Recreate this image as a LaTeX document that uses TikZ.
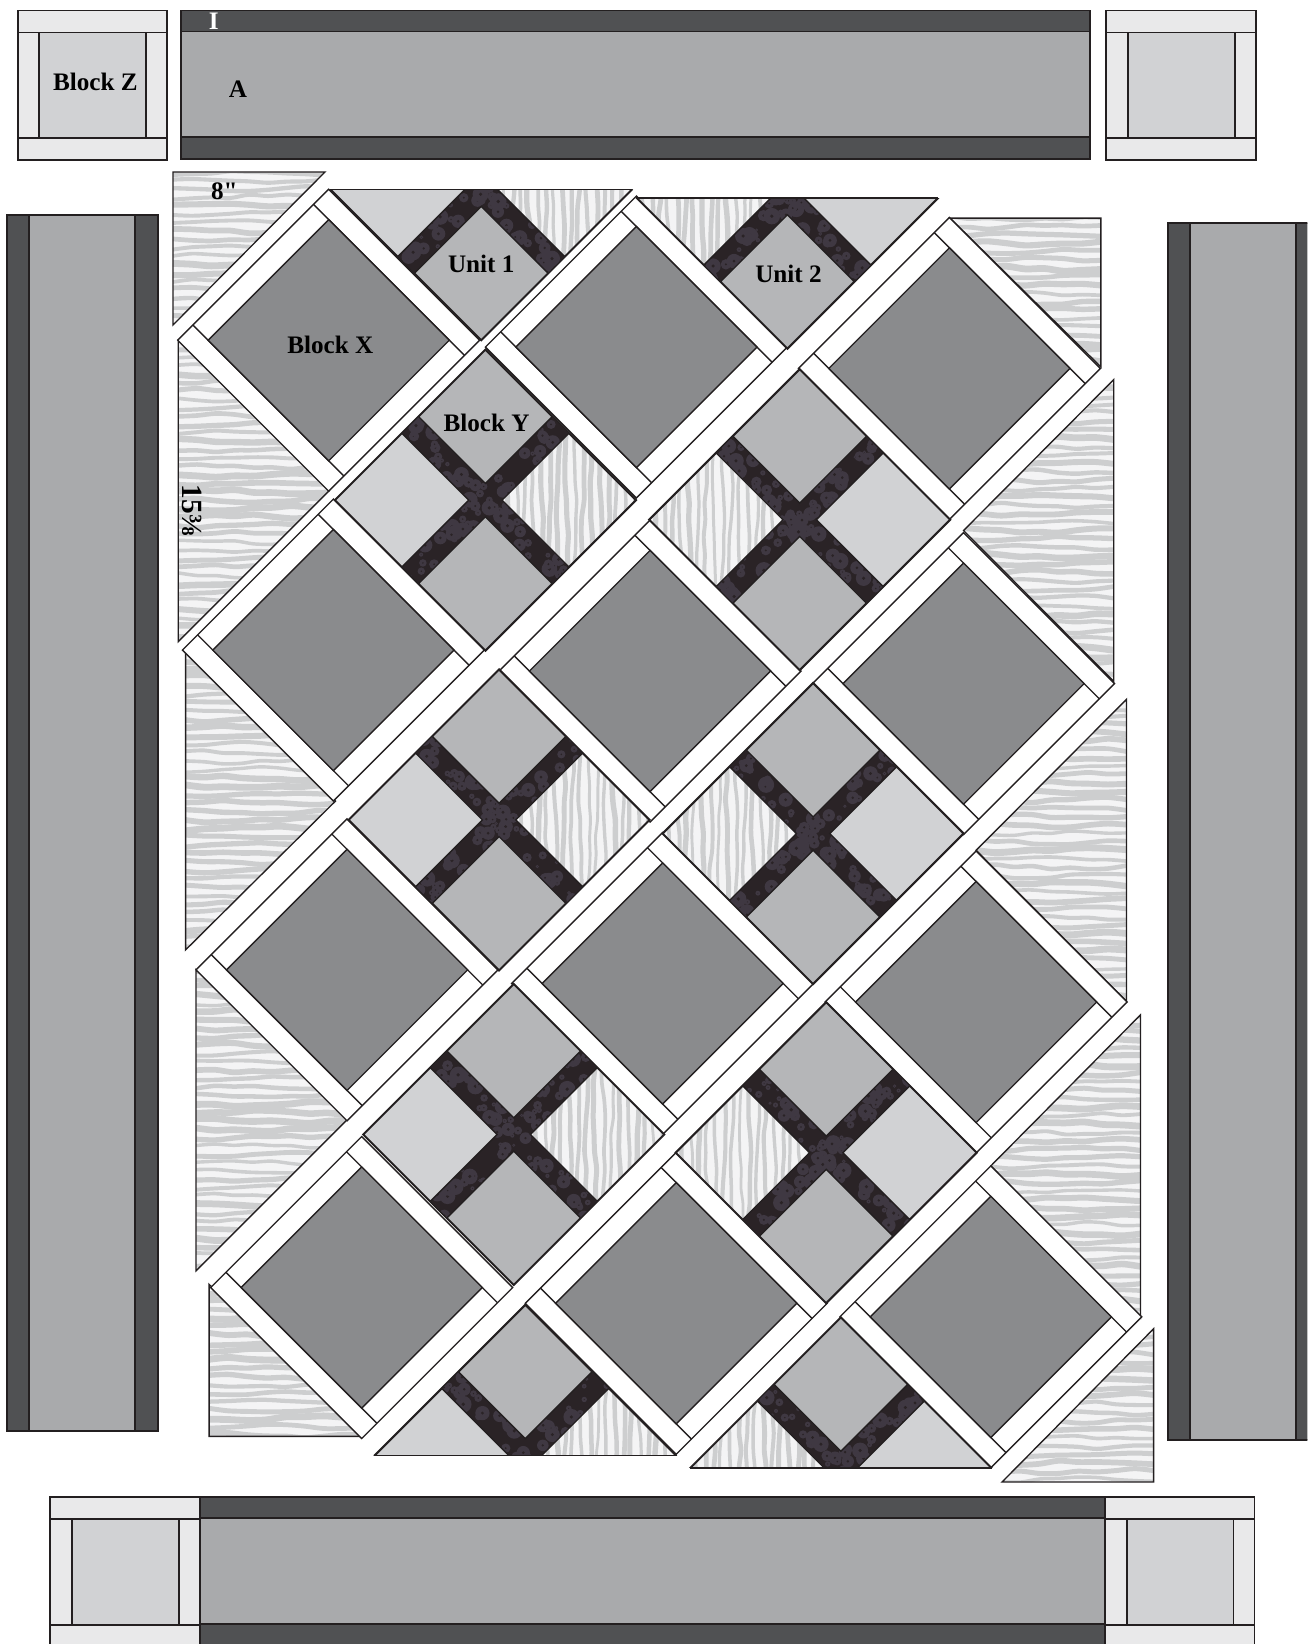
\documentclass[tikz,border=0pt]{standalone}
\usepackage{fontspec}
\newfontfamily\lblfont{Liberation Serif}
\definecolor{linecol}{HTML}{231F20}
\definecolor{darkbar}{HTML}{505153}
\definecolor{midbar}{HTML}{A9AAAC}
\definecolor{zsash}{HTML}{E9E9EA}
\definecolor{zcore}{HTML}{D1D2D4}
\definecolor{xcore}{HTML}{8A8B8D}
\definecolor{ycore}{HTML}{B5B6B8}
\definecolor{ripgrey}{HTML}{CDCECF}
\definecolor{ripwhite}{HTML}{F4F4F5}
\definecolor{batikdark}{HTML}{2A2326}
\definecolor{batiklite}{HTML}{3F3842}
\tikzset{
  piece/.style={draw=linecol, line width=1.3pt},
  barline/.style={draw=linecol, line width=1.8pt},
  qlbl/.style={font=\lblfont\bfseries\fontsize{24}{24}\selectfont, inner sep=0pt, text=black}}
% fabric prints, all in the coordinates of the scope they are used in
\newcommand{\rippleh}[4]{%
  \fill[ripwhite] (#1,#3) rectangle (#2,#4);
  \pgfmathsetmacro\ynext{#3+8}
  \foreach \yy in {#3,\ynext,...,#4}{
    \pgfmathsetmacro\lw{3.2+3.4*rnd}
    \pgfmathsetmacro\ph{mod(\yy,100)*13}
    \draw[ripgrey, line width=\lw pt] plot[smooth, domain=#1:#2, samples=9] (\x,{\yy+1.6*sin(\x*2.2+\ph)+1.1*rand});
  }}
\newcommand{\ripplev}[4]{%
  \fill[ripwhite] (#1,#3) rectangle (#2,#4);
  \pgfmathsetmacro\xnext{#1+8}
  \foreach \xx in {#1,\xnext,...,#2}{
    \pgfmathsetmacro\lw{2.6+2.6*rnd}
    \draw[ripgrey, line width=\lw pt] plot[smooth, variable=\t, domain=#3:#4, samples=9] ({\xx+1.4*sin(\t*2.2+\xx*13)+0.9*rand},\t);
  }}
\newcommand{\batik}{%
  \fill[batikdark] (-150,-150) rectangle (150,150);
  \foreach \i in {1,...,90}{
    \pgfmathsetmacro\pp{rand*80}
    \pgfmathsetmacro\qq{rand*8}
    \pgfmathsetmacro\rr{1.5+6.5*rnd}
    \pgfmathsetmacro\sgn{ifthenelse(mod(\i,2)==1,1,-1)}
    \fill[batiklite] ({\pp+\qq},{\sgn*(\pp-\qq)}) circle (\rr);
    \fill[batikdark] ({\pp+\qq},{\sgn*(\pp-\qq)}) circle ({0.22*\rr});
  }}
\newcommand{\midfab}{\fill[ycore] (-70,-70) rectangle (70,70);}
\newcommand{\lightfab}{\fill[zcore] (-70,-70) rectangle (70,70);}
\newcommand{\ripplefab}{\ripplev{-66}{66}{-66}{66}}
% one quarter of block Y
\newcommand{\yquad}[3]{%
  \begin{scope}[shift={(#1,#2)}]
    \begin{scope}
      \clip (0,-63.6) -- (63.6,0) -- (0,63.6) -- (-63.6,0) -- cycle;
      #3
    \end{scope}
    \draw[piece] (0,-63.6) -- (63.6,0) -- (0,63.6) -- (-63.6,0) -- cycle;
  \end{scope}}
% block Y: centre, left fabric, right fabric, kept y range
\newcommand{\yblock}[6]{%
  \begin{scope}[shift={(#1,#2)}]
    \clip (-150,#5) rectangle (150,#6);
    \begin{scope}
      \clip (0,-144) -- (144,0) -- (0,144) -- (-144,0) -- cycle;
      \batik
    \end{scope}
    \draw[piece] (0,-144) -- (144,0) -- (0,144) -- (-144,0) -- cycle;
    \yquad{0}{-79.5}{\midfab}
    \yquad{0}{79.5}{\midfab}
    \yquad{-79.5}{0}{#3}
    \yquad{79.5}{0}{#4}
  \end{scope}}
% block X with its sashes
\newcommand{\xblock}[2]{%
  \begin{scope}[shift={(#1,#2)}]
    \draw[piece, fill=white] (0,-144) -- (144,0) -- (0,144) -- (-144,0) -- cycle;
    \draw[piece] (-14.5,-129.5) -- (129.5,14.5);
    \draw[piece] (-129.5,-14.5) -- (14.5,129.5);
    \draw[piece, fill=xcore] (0,-115) -- (115,0) -- (0,115) -- (-115,0) -- cycle;
  \end{scope}}
% block Z, from its top left corner
\newcommand{\zblock}[2]{%
  \begin{scope}[shift={(#1,#2)}]
    \draw[barline, fill=zsash] (0,0) rectangle (142.5,142.5);
    \draw[barline, fill=zcore] (20.5,21) rectangle (122.5,121.5);
    \draw[barline] (0,21) -- (142.5,21);
    \draw[barline] (0,121.5) -- (142.5,121.5);
  \end{scope}}

\begin{document}
\begin{tikzpicture}[x=1pt, y=-1pt]
  \path[use as bounding box, clip] (0,0) rectangle (1247,1568);
  \pgfmathsetseed{7}
  % borders
  \foreach \xa/\xb/\ya in {173/1040/10, 190/1054/1428}{
    \draw[barline, fill=midbar] (\xa,\ya+20) rectangle (\xb,\ya+121);
    \draw[barline, fill=darkbar] (\xa,\ya) rectangle (\xb,\ya+20);
    \draw[barline, fill=darkbar] (\xa,\ya+121) rectangle (\xb,\ya+142);
  }
  \foreach \xa/\ya/\yb in {7/205/1365, 1114/213/1373}{
    \draw[barline, fill=midbar] (\xa+21,\ya) rectangle (\xa+122,\yb);
    \draw[barline, fill=darkbar] (\xa,\ya) rectangle (\xa+21,\yb);
    \draw[barline, fill=darkbar] (\xa+122,\ya) rectangle (\xa+144,\yb);
  }
  \foreach \xa/\ya in {17/10, 1055/10, 48/1428, 1054/1428}{
    \zblock{\xa}{\ya}
  }
  % setting triangles
  \foreach \ax/\ay/\bx/\by/\cx/\cy in {165/164/310/164/165/310, 170/325/170/612/314/468,
      177/622/177/906/320/764, 187/925/187/1212/331/1068, 199.5/1225/199.5/1370/345/1370,
      906/208/1050/208/1050/350, 1062.3/362/1062.3/650/919/506, 1074.4/667/1074.4/955/931/811,
      1087.7/968/1087.7/1257/945/1112, 955.7/1413.5/1100.3/1413.5/1100.3/1267.3}{
    \pgfmathsetmacro\xlo{min(\ax,\bx,\cx)}
    \pgfmathsetmacro\xhi{max(\ax,\bx,\cx)}
    \pgfmathsetmacro\ylo{min(\ay,\by,\cy)}
    \pgfmathsetmacro\yhi{max(\ay,\by,\cy)}
    \begin{scope}
      \clip (\ax,\ay) -- (\bx,\by) -- (\cx,\cy) -- cycle;
      \rippleh{\xlo}{\xhi}{\ylo}{\yhi}
    \end{scope}
    \draw[piece] (\ax,\ay) -- (\bx,\by) -- (\cx,\cy) -- cycle;
  }
  % blocks X, strip by strip
  \foreach \cx/\cy in {313.5/324.5, 318/620, 607/331, 331/925, 620/640, 905.5/351.4,
      345/1228, 632/938, 919/652, 645/1243, 931/955.7, 945/1256}{
    \xblock{\cx}{\cy}
  }
  % blocks Y
  \foreach \cx/\cy in {463/477, 476/782, 490/1082}{
    \yblock{\cx}{\cy}{\lightfab}{\ripplefab}{-150}{150}
  }
  \foreach \cx/\cy in {762.7/495.7, 775.5/795, 788/1099.4}{
    \yblock{\cx}{\cy}{\ripplefab}{\lightfab}{-150}{150}
  }
  % units, cut in half
  \yblock{459}{181}{\lightfab}{\ripplefab}{0}{150}
  \yblock{751}{189}{\ripplefab}{\lightfab}{0}{150}
  \yblock{501}{1388}{\lightfab}{\ripplefab}{-150}{0}
  \yblock{802}{1400}{\ripplefab}{\lightfab}{-150}{0}
  \foreach \cx/\cy in {459/181, 751/189, 501/1388, 802/1400}{
    \draw[piece] (\cx-144,\cy) -- (\cx+144,\cy);
  }
  % labels
  \node[qlbl] (blockz) at (91,78) {Block Z};
  \node[qlbl, text=white] (stripi) at (204,20) {I};
  \node[qlbl] (stripa) at (227,85) {A};
  \node[qlbl] (eight) at (214,182) {8"};
  \node[qlbl] (blockx) at (315,329) {Block X};
  \node[qlbl] (unita) at (459,252) {Unit 1};
  \node[qlbl] (blocky) at (464,403) {Block Y};
  \node[qlbl] (unitb) at (752,261) {Unit 2};
  \node[qlbl, font=\lblfont\bfseries\fontsize{28}{28}\selectfont, rotate=-90] (side) at (183,487) {15⅜};
\end{tikzpicture}
\end{document}
